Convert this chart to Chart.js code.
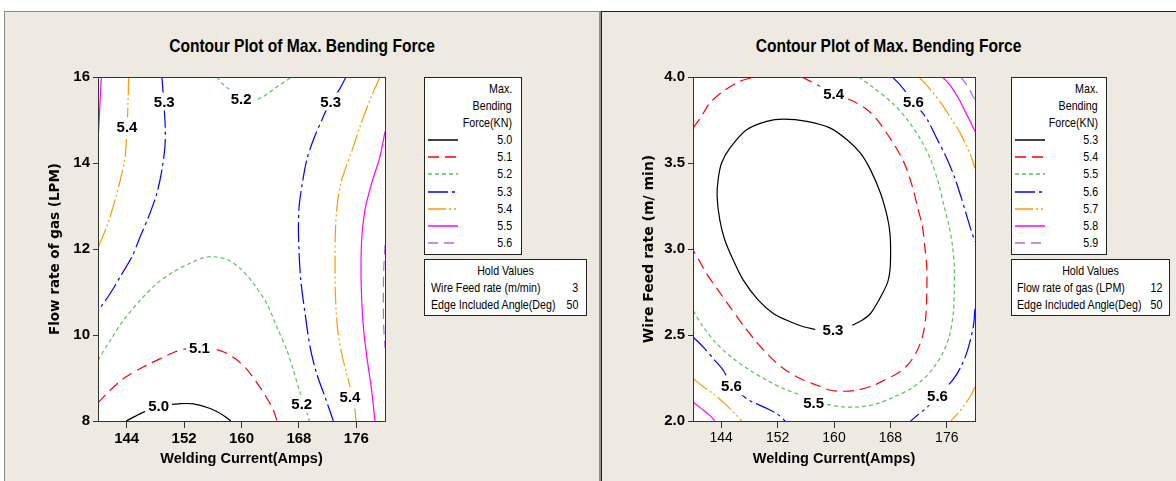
<!DOCTYPE html>
<html>
<head>
<meta charset="utf-8">
<script src="https://cdn.jsdelivr.net/npm/chart.js@4.4.1/dist/chart.umd.min.js"></script>
<style>
  body { margin: 0; width: 1176px; height: 481px; background: #fff; overflow: hidden; position: relative;
         font-family: "Liberation Sans", Arial, sans-serif; color: #000; }
  .panel { position: absolute; top: 11px; height: 475px; background: #eeeae1; box-sizing: border-box; }
  #panelA { left: 4px; width: 597px; border-top: 1px solid #8a8a8a; border-left: 1px solid #8a8a8a; border-right: 2px solid #909090; }
  #panelB { left: 601px; width: 580px; border-top: 1px solid #222; border-left: 1px solid #222; }
  canvas { position: absolute; }
  /* Arial-metric font squeezed to mimic the narrow Minitab face */
  .title { position: absolute; top: 36px; font: bold 19px "Liberation Sans", Arial, sans-serif;
           line-height: 19px; text-align: center; white-space: nowrap; transform: scaleX(0.82); }
  .box { position: absolute; box-sizing: border-box; border: 1px solid #222; background: #fff; font-size: 13px; }
  .box .row { position: absolute; height: 16px; line-height: 16px; white-space: nowrap; }
  .box .r { transform: scaleX(0.82); transform-origin: right center; }
  .box .l { transform: scaleX(0.82); transform-origin: left center; }
  .box .c { transform: scaleX(0.82); transform-origin: center center; }
  .box svg { position: absolute; }
</style>
</head>
<body>
<div class="panel" id="panelA"></div>
<div class="panel" id="panelB"></div>
<div class="title" style="left:4px;width:596px">Contour Plot of Max. Bending Force</div>
<div class="title" style="left:601px;width:575px">Contour Plot of Max. Bending Force</div>
<canvas id="chartA" width="593" height="469" style="left:5px;top:12px"></canvas>
<canvas id="chartB" width="574" height="469" style="left:602px;top:12px"></canvas>
<div class="box" id="legA" style="left:424px;top:77px;width:98px;height:178px"></div>
<div class="box" id="holdA" style="left:424px;top:259px;width:163px;height:57px"></div>
<div class="box" id="legB" style="left:1011px;top:77px;width:96px;height:178px"></div>
<div class="box" id="holdB" style="left:1011px;top:259px;width:159px;height:57px"></div>
<script>
// axis ticks
const xTicks = [144, 152, 160, 168, 176];
const yTicksA = [8, 10, 12, 14, 16];
const yTicksB = [2.0, 2.5, 3.0, 3.5, 4.0];

// contour levels (Max. Bending Force, KN)
const levelsA = [5.0, 5.1, 5.2, 5.3, 5.4, 5.5, 5.6];
const levelsB = [5.3, 5.4, 5.5, 5.6, 5.7, 5.8, 5.9];

// hold values
const holdA = [['Wire Feed rate (m/min)', '3'], ['Edge Included Angle(Deg)', '50']];
const holdB = [['Flow rate of gas (LPM)', '12'], ['Edge Included Angle(Deg)', '50']];

// left plot: welding current vs flow rate of gas, [current, flow]
const a50 = [[143.94,8],[146.12,8.19],[147.75,8.29],[149.5,8.37],[151.23,8.40],[153.32,8.40],[155.64,8.29],[157.49,8.13],[158.51,8]];
const a51 = [[140,8.42],[141.25,8.64],[143.57,8.99],[146.36,9.26],[148.68,9.45],[150.76,9.61],[152.62,9.69],[154.24,9.72],[155.87,9.69],[157.6,9.6],[159.2,9.44],[160.75,9.2],[162.1,8.9],[163.3,8.6],[164.4,8.27],[164.95,8]];
const a52t = [[156.56,16],[157.49,15.82],[158.65,15.67],[160.04,15.51],[161.67,15.46],[163.06,15.55],[164.92,15.77],[167.0,16]];
const a52b = [[140,9.41],[141.72,9.88],[143.57,10.35],[145.89,10.81],[148.21,11.2],[150.53,11.47],[152.85,11.67],[154.71,11.8],[156.1,11.82],[157.96,11.76],[159.81,11.55],[161.67,11.2],[163.52,10.73],[164.92,10.19],[166.31,9.65],[167.24,9.18],[168.07,8.71],[168.86,8.33],[169.46,8]];
const a53l = [[148.91,16],[149.14,15.47],[149.37,14.85],[149.33,14.38],[148.91,13.84],[148.21,13.3],[147.05,12.75],[145.89,12.29],[144.73,11.82],[143.11,11.36],[141.72,10.97],[140,10.56]];
const a53r = [[174.57,16],[173.5,15.67],[172.43,15.43],[171.41,15.08],[170.02,14.54],[169.09,14.07],[168.4,13.45],[168.03,12.99],[167.93,12.52],[168.03,11.9],[168.26,11.28],[168.86,10.5],[169.56,9.72],[170.48,9.1],[171.64,8.56],[172.8,8]];
const a54l = [[144.27,16],[144.18,15.39],[144.04,14.77],[143.71,14.07],[142.64,13.3],[141.39,12.6],[140,12.02]];
const a54r = [[179.3,16],[177.91,15.47],[176.52,14.85],[175.59,14.38],[174.43,13.84],[173.73,13.45],[173.27,12.91],[173.08,12.37],[173.04,11.74],[173.08,10.97],[173.36,10.19],[173.96,9.57],[174.66,9.1],[175.36,8.64],[175.82,8.25],[175.96,8]];
const a55l = [[140.46,16],[140.23,15.24],[140,14.46]];
const a55r = [[180,14.73],[179.3,14.15],[178.14,13.53],[177.21,12.91],[176.75,12.21],[176.66,11.43],[176.8,10.66],[177.07,10.03],[177.54,9.41],[178.14,8.71],[178.6,8]];
const a56 = [[180,12.1],[179.82,11.5],[179.77,10.8],[179.82,10.2],[180,9.7]];

// right plot: welding current vs wire feed rate, [current, feed]
const b53 = [[157.34,2.532],[155.68,2.548],[153.78,2.577],[151.4,2.625],[149.26,2.703],[147.13,2.819],[145.7,2.936],[144.51,3.052],[143.8,3.169],[143.42,3.305],[143.56,3.402],[144.04,3.499],[145.23,3.586],[147.6,3.693],[150.45,3.742],[152.83,3.755],[156.15,3.742],[159.48,3.703],[161.85,3.635],[163.75,3.557],[165.18,3.46],[166.6,3.324],[167.55,3.188],[167.94,3.091],[168.03,2.984],[167.94,2.878],[167.55,2.8],[166.37,2.703],[165.18,2.625],[163.99,2.586],[162.57,2.557]];
const b54a = [[140,3.703],[141.19,3.771],[142.38,3.849],[144.28,3.917],[146.65,3.975],[148.79,4.0]];
const b54b = [[155.44,4.0],[157.58,3.955],[159.95,3.905],[162.81,3.858],[164.71,3.81],[166.13,3.751],[167.79,3.654],[168.98,3.577],[170.17,3.48],[171.12,3.363],[171.83,3.247],[172.54,3.13],[172.88,3.014],[173.16,2.897],[173.16,2.742],[173.02,2.606],[172.54,2.489],[171.59,2.392],[170.41,2.324],[168.98,2.276],[167.08,2.237],[165.66,2.208],[163.28,2.179],[161.38,2.173],[159.48,2.179],[157.58,2.208],[155.2,2.247],[152.83,2.305],[150.69,2.383],[148.79,2.47],[147.13,2.557],[145.23,2.664],[143.56,2.761],[141.9,2.858],[140.71,2.946],[140,2.994]];
const b55 = [[163.52,4.0],[165.66,3.936],[168.27,3.849],[170.41,3.751],[172.31,3.635],[173.73,3.518],[174.82,3.383],[175.63,3.247],[176.34,3.13],[176.82,3.014],[177.06,2.897],[177.06,2.761],[176.92,2.625],[176.34,2.489],[175.39,2.392],[174.21,2.315],[172.78,2.247],[170.88,2.188],[168.51,2.14],[166.13,2.101],[163.75,2.082],[161.38,2.082],[159.0,2.097],[156.9,2.12],[154.73,2.159],[152.83,2.188],[150.45,2.237],[148.08,2.295],[145.7,2.363],[143.33,2.451],[141.43,2.548],[140,2.645]];
const b56a = [[168.27,4.0],[169.22,3.961],[171.26,3.858],[173.26,3.751],[174.44,3.654],[175.87,3.538],[177.06,3.421],[178.0,3.305],[178.72,3.208],[179.43,3.111],[180,3.043]];
const b56b = [[180,2.654],[179.76,2.548],[178.95,2.412],[178.0,2.315],[176.82,2.237],[174.68,2.144],[173.26,2.082],[171.83,2.033],[170.88,2.0]];
const b56c = [[140,2.489],[141.43,2.431],[143.09,2.353],[144.28,2.295],[145.46,2.21],[147.6,2.13],[149.98,2.082],[151.88,2.043],[153.07,2.0]];
const b57a = [[172.07,4.0],[173.49,3.936],[175.16,3.849],[176.58,3.761],[177.77,3.684],[178.72,3.606],[179.43,3.538],[180,3.47]];
const b57b = [[140,2.247],[141.19,2.208],[142.85,2.159],[144.51,2.101],[145.94,2.043],[146.89,2.0]];
const b57c = [[180,2.198],[179.43,2.15],[178.48,2.091],[177.53,2.043],[176.58,2.0]];
const b58a = [[175.39,4.0],[176.58,3.946],[177.77,3.868],[178.72,3.79],[179.43,3.732],[180,3.684]];
const b58b = [[140,2.111],[141.19,2.072],[142.38,2.033],[143.09,2.0]];
const b59 = [[178.0,4.0],[178.95,3.946],[180,3.868]];

// which level each contour piece belongs to (index into levels)
const contoursA = [[0,a50],[1,a51],[2,a52t],[2,a52b],[3,a53l],[3,a53r],[4,a54l],[4,a54r],[5,a55l],[5,a55r],[6,a56]];
const contoursB = [[0,b53],[1,b54a],[1,b54b],[2,b55],[3,b56a],[3,b56b],[3,b56c],[4,b57a],[4,b57b],[4,b57c],[5,b58a],[5,b58b],[6,b59]];

// contour labels: text, current, y value
const labelsA = [['5.3',149.23,15.43],['5.2',159.95,15.5],['5.3',172.43,15.43],['5.4',144.04,14.85],['5.1',154.15,9.71],['5.0',148.44,8.35],['5.2',168.4,8.4],['5.4',175.12,8.57]];
const labelsB = [['5.4',159.95,3.9],['5.6',171.26,3.858],['5.3',159.86,2.532],['5.6',145.46,2.202],['5.5',157.1,2.105],['5.6',174.68,2.144]];

// minitab-like line types, one per level
const lineStyles = [
  { color: '#000000', dash: [] },
  { color: '#ff0000', dash: [11, 6] },
  { color: '#55c455', dash: [4, 3] },
  { color: '#0000ff', dash: [20, 4, 3, 4] },
  { color: '#ff9900', dash: [18, 3, 2, 3, 2, 3] },
  { color: '#ff00ff', dash: [] },
  { color: '#b36ae2', dash: [10, 6] }
];

const sans = '"Liberation Sans", Arial, sans-serif';

// white plot area, frame and the level labels on the lines
function contourPlugin(labels) {
  return {
    id: 'contourDeco',
    beforeDatasetsDraw(chart) {
      const { ctx, chartArea: a } = chart;
      ctx.save();
      ctx.fillStyle = '#fff';
      ctx.fillRect(a.left, a.top, a.width, a.height);
      ctx.restore();
    },
    afterDatasetsDraw(chart) {
      const { ctx, chartArea: a, scales } = chart;
      ctx.save();
      ctx.font = 'bold 15px ' + sans;
      ctx.textAlign = 'center';
      ctx.textBaseline = 'middle';
      labels.forEach(([t, vx, vy]) => {
        const px = scales.x.getPixelForValue(vx);
        const py = scales.y.getPixelForValue(vy);
        const w = ctx.measureText(t).width;
        ctx.fillStyle = '#fff';
        ctx.fillRect(px - w / 2 - 3, py - 9, w + 6, 18);
        ctx.fillStyle = '#000';
        ctx.fillText(t, px, py + 1);
      });
      ctx.strokeStyle = '#333';
      ctx.lineWidth = 1;
      ctx.strokeRect(a.left + 0.5, a.top + 0.5, a.width, a.height);
      ctx.restore();
    }
  };
}

function makeChart(id, contours, labels, yTicks, yMin, yMax, yTitle, opts) {
  const datasets = contours.map(([lvl, pts]) => ({
    data: pts.map(p => ({ x: p[0], y: p[1] })),
    showLine: true,
    pointRadius: 0,
    borderWidth: 1.2,
    borderColor: lineStyles[lvl].color,
    borderDash: lineStyles[lvl].dash,
    tension: 0.3,
    fill: false
  }));
  return new Chart(document.getElementById(id), {
    type: 'scatter',
    data: { datasets },
    options: {
      responsive: false,
      animation: false,
      devicePixelRatio: 1,
      layout: { padding: { left: 0, top: 65, right: opts.padRight, bottom: 0 } },
      plugins: { legend: { display: false }, tooltip: { enabled: false } },
      scales: {
        x: {
          type: 'linear', position: 'bottom', min: 140, max: 180,
          afterBuildTicks: s => { s.ticks = xTicks.map(v => ({ value: v })); },
          afterFit: s => { s.height = 60; },
          ticks: { font: opts.xTickFont, color: '#000', padding: 2, maxRotation: 0, autoSkip: false },
          grid: { drawOnChartArea: false, drawTicks: true, tickLength: 7, color: '#333' },
          border: { display: false },
          title: { display: true, text: 'Welding Current(Amps)', color: '#000',
                   font: { family: sans, weight: 'bold', size: 14.5 }, padding: { top: 0, bottom: 13 } }
        },
        y: {
          type: 'linear', position: 'left', min: yMin, max: yMax,
          afterBuildTicks: s => { s.ticks = yTicks.map(v => ({ value: v })); },
          afterFit: s => { s.width = opts.yWidth; },
          ticks: { font: { family: sans, weight: 'bold', size: 15 }, color: '#000', padding: 3,
                   callback: opts.yFormat },
          grid: { drawOnChartArea: false, drawTicks: true, tickLength: 5, color: '#333' },
          border: { display: false },
          title: { display: true, text: yTitle, color: '#000',
                   font: { family: '"DejaVu Sans", sans-serif', weight: 'bold', size: opts.yTitleSize },
                   padding: { top: opts.yTitlePad, bottom: 0 } }
        }
      }
    },
    plugins: [contourPlugin(labels)]
  });
}

makeChart('chartA', contoursA, labelsA, yTicksA, 8, 16, 'Flow rate of gas (LPM)', {
  padRight: 213, yWidth: 93, yTitlePad: 42, yTitleSize: 13.5,
  xTickFont: { family: sans, weight: 'bold', size: 15 },
  yFormat: v => String(v)
});
makeChart('chartB', contoursB, labelsB, yTicksB, 2, 4, 'Wire Feed rate (m/ min)', {
  padRight: 201, yWidth: 91, yTitlePad: 39, yTitleSize: 14,
  xTickFont: { family: sans, weight: 'normal', size: 14 },
  yFormat: v => Number(v).toFixed(1)
});

// legend boxes and hold values
function buildLegend(id, levels, textRight) {
  const el = document.getElementById(id);
  let html = '';
  ['Max.', 'Bending', 'Force(KN)'].forEach((t, i) => {
    html += `<div class="row r" style="right:${textRight}px;top:${3 + i * 17}px">${t}</div>`;
  });
  levels.forEach((lv, i) => {
    const c = 62 + i * 17.2;
    const st = lineStyles[i];
    html += `<svg width="30" height="4" style="left:3px;top:${(c - 2).toFixed(1)}px">` +
            `<line x1="0" y1="2" x2="30" y2="2" stroke="${st.color}" stroke-width="1.5" stroke-dasharray="${st.dash.join(' ') || 'none'}"/></svg>`;
    html += `<div class="row r" style="right:${textRight}px;top:${(c - 8).toFixed(1)}px">${lv.toFixed(1)}</div>`;
  });
  el.innerHTML = html;
}
function buildHold(id, rows, left, right) {
  const el = document.getElementById(id);
  let html = `<div class="row c" style="left:0;right:0;text-align:center;top:3px">Hold Values</div>`;
  rows.forEach(([name, val], i) => {
    html += `<div class="row l" style="left:${left}px;top:${20 + i * 17}px">${name}</div>`;
    html += `<div class="row r" style="right:${right}px;top:${20 + i * 17}px">${val}</div>`;
  });
  el.innerHTML = html;
}
buildLegend('legA', levelsA, 9);
buildLegend('legB', levelsB, 8);
buildHold('holdA', holdA, 6, 8);
buildHold('holdB', holdB, 5, 7);
</script>
</body>
</html>
